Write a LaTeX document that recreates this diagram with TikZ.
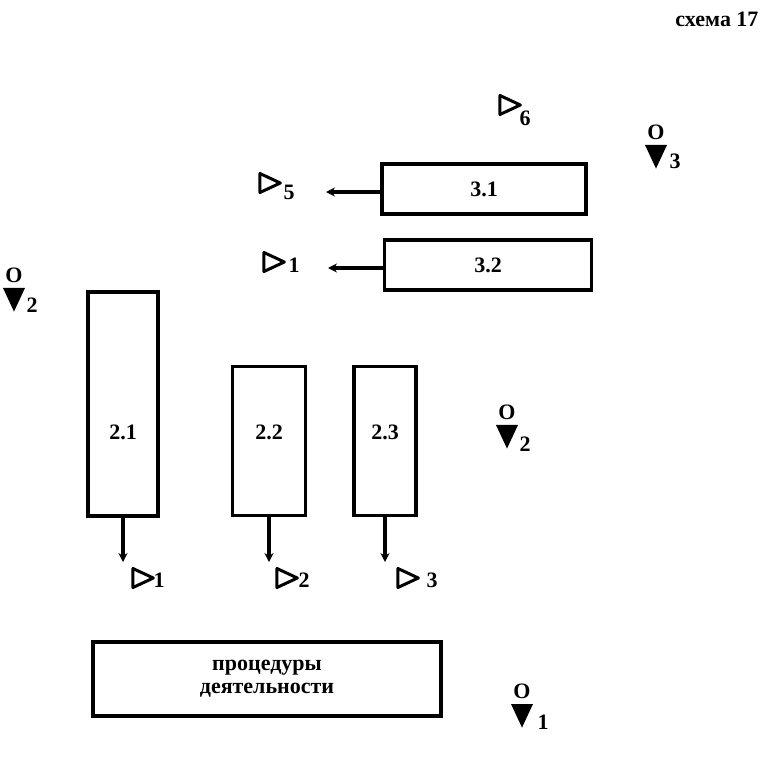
\documentclass[tikz,border=0pt]{standalone}
\usepackage{fontspec}
\setmainfont{Liberation Serif}
\usetikzlibrary{positioning, arrows.meta, shapes.geometric}

\begin{document}
\begin{tikzpicture}[x=1pt, y=-1pt, >={Stealth[length=9pt, width=9pt]},
  font=\bfseries\fontsize{22}{23}\selectfont,
  box/.style={draw, line width=3.4pt, inner sep=0pt, align=center},
  optri/.style={draw, line width=3pt, line join=round, isosceles triangle, isosceles triangle apex angle=50,
    minimum width=19pt, minimum height=18pt, inner sep=0pt},
  dntri/.style={fill, isosceles triangle, isosceles triangle apex angle=50, shape border rotate=-90,
    minimum width=22pt, minimum height=20pt, inner sep=0pt},
  sub/.style={inner sep=0pt}]
  \useasboundingbox (0,0) rectangle (765,760);

  % Title
  \node[anchor=north east] (title) at (762,8) {схема 17};

  % Upper boxes
  \node[box, minimum width=204pt, minimum height=50pt] (b31) at (484,189) {3.1};
  \node[box, minimum width=207pt, minimum height=50pt] (b32) at (488,265) {3.2};

  % Middle boxes (labels sit on one line)
  \node[box, minimum width=70pt, minimum height=224pt, label={[yshift=-28pt]center:2.1}] (b21) at (123,404) {};
  \node[box, minimum width=73pt, minimum height=149pt, label={[yshift=9pt]center:2.2}] (b22) at (269,441) {};
  \node[box, minimum width=62pt, minimum height=149pt, label={[yshift=9pt]center:2.3}] (b23) at (385,441) {};

  % Bottom box
  \node[box, minimum width=348pt, minimum height=74pt] (proc) at (267,679) {процедуры\\деятельности};

  % Open triangles
  \node[optri] (t6) at (506,105) {};
  \node[sub] (s6) at (525,118) {6};
  \node[optri] (t5) at (266,183) {};
  \node[sub] (s5) at (289,192) {5};
  \node[optri] (t1a) at (270,262) {};
  \node[sub] (s1a) at (294,265) {1};
  \node[optri] (t1b) at (139,578) {};
  \node[sub] (s1b) at (159,580) {1};
  \node[optri] (t2) at (283,578) {};
  \node[sub] (s2) at (304,580) {2};
  \node[optri] (t3) at (404,578) {};
  \node[sub] (s3) at (432,580) {3};

  % Filled triangles with O
  \node[dntri] (d3) at (656,152) {};
  \node[sub, above=5pt of d3] (o3) {O};
  \node[sub] (s3r) at (675,161) {3};
  \node[dntri] (d2a) at (14,295) {};
  \node[sub, above=5pt of d2a] (o2a) {O};
  \node[sub] (s2a) at (32,305) {2};
  \node[dntri] (d2b) at (507,432) {};
  \node[sub, above=5pt of d2b] (o2b) {O};
  \node[sub] (s2b) at (525,444) {2};
  \node[dntri] (d1) at (522,711) {};
  \node[sub, above=5pt of d1] (o1) {O};
  \node[sub] (s1r) at (543,722) {1};

  % Arrow ends
  \coordinate (e31) at (326,192);
  \coordinate (e32) at (328,268);
  \coordinate (e21) at (b21.south |- 0,562);
  \coordinate (e22) at (b22.south |- 0,562);
  \coordinate (e23) at (b23.south |- 0,562);

  % Connections
  \draw[->, line width=3.4pt] (b31.west |- e31) -- (e31);
  \draw[->, line width=3.4pt] (b32.west |- e32) -- (e32);
  \draw[->, line width=3.4pt] (b21.south) -- (e21);
  \draw[->, line width=3.4pt] (b22.south) -- (e22);
  \draw[->, line width=3.4pt] (b23.south) -- (e23);
\end{tikzpicture}
\end{document}
